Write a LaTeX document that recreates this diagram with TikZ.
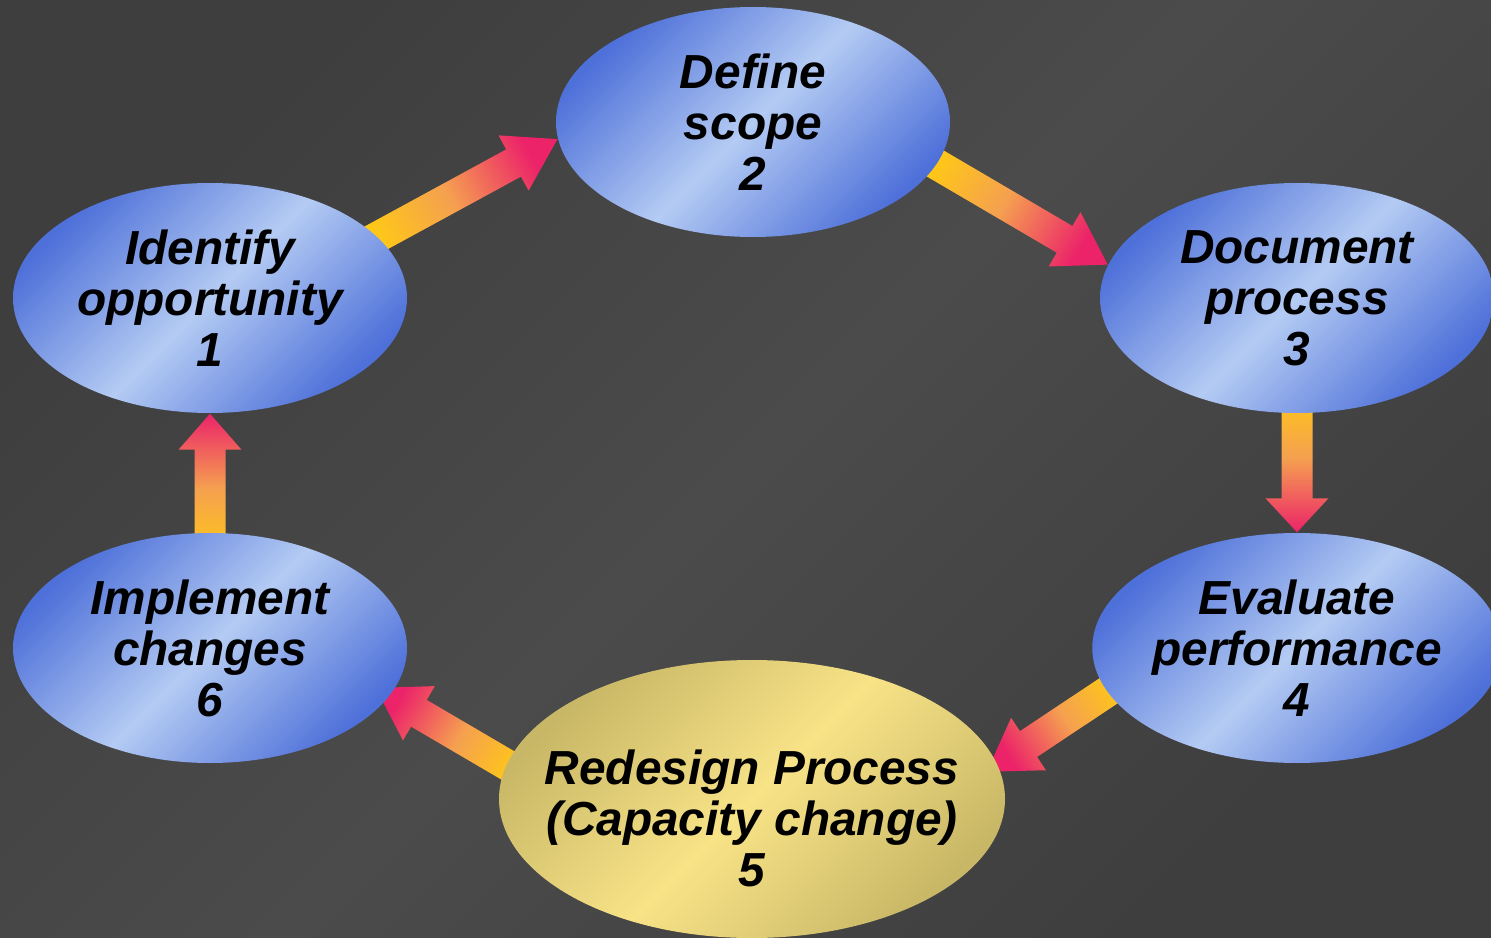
\documentclass[tikz,border=0pt]{standalone}
\usepackage{fontspec}
\setmainfont{Liberation Sans}
\usepackage{tikz}
\usetikzlibrary{shapes.geometric,calc}

\definecolor{stagedark}{HTML}{4E70D9}
\definecolor{stagelight}{HTML}{B4CBF3}
\definecolor{hotdark}{HTML}{C8B766}
\definecolor{hotlight}{HTML}{F8E387}
\definecolor{arrowyellow}{HTML}{FFCC11}
\definecolor{arroworange}{HTML}{F5A050}
\definecolor{arrowpink}{HTML}{EC2369}
\definecolor{slate}{HTML}{4B4B4B}
\definecolor{slatedark}{HTML}{3E3E3E}

\pgfdeclarelayer{backdrop}
\pgfdeclarelayer{links}
\pgfsetlayers{backdrop,links,main}

% fat shaded block arrow: [head length]{from}{to}
\newcommand\cyclearrow[3][5mm]{%
  \coordinate (tip) at (#3);
  \coordinate (tail) at ($(#2)!-3mm!(tip)$);
  \coordinate (hb) at ($(tip)!#1!(tail)$);
  \pgfmathanglebetweenpoints{\pgfpointanchor{tail}{center}}{\pgfpointanchor{tip}{center}}%
  \pgfmathsetmacro\arrowangle{\pgfmathresult-90}%
  \shade[top color=arrowpink, bottom color=arrowyellow, middle color=arroworange, shading angle=\arrowangle]
    ($(tail)!1.55mm!90:(tip)$) -- ($(hb)!1.55mm!90:(tip)$) -- ($(hb)!3.15mm!90:(tip)$) -- (tip)
    -- ($(hb)!3.15mm!-90:(tip)$) -- ($(hb)!1.55mm!-90:(tip)$) -- ($(tail)!1.55mm!-90:(tip)$) -- cycle;
}

\begin{document}
\begin{tikzpicture}[
    every node/.append style={font=\fontsize{13.6}{14.5}\selectfont\bfseries\itshape, align=center, text=black},
    stage/.style={ellipse, inner sep=0pt, minimum width=3.94cm, minimum height=2.3cm,
      top color=stagedark, bottom color=stagedark, middle color=stagelight, shading angle=45},
    hotstage/.style={stage, minimum width=5.06cm, minimum height=2.78cm,
      top color=hotdark, bottom color=hotdark, middle color=hotlight, shading angle=45}]
  \useasboundingbox (0,0) rectangle (14.91,9.37);
  \begin{pgfonlayer}{backdrop}
    \shade[top color=slatedark, bottom color=slatedark, middle color=slate, shading angle=45]
      (0,0) rectangle (14.91,9.37);
  \end{pgfonlayer}

  \node (ident) [stage] at (2.10,6.39) {Identify\\opportunity\\1};
  \node (scope) [stage] at (7.53,8.15) {Define\\scope\\2};
  \node (doc) [stage] at (12.97,6.39) {Document\\process\\3};
  \node (eval) [stage] at (12.97,2.89) {Evaluate\\performance\\4};
  \node (redesign) [hotstage] at (7.52,1.38) {};
  \node (redesigntext) at ([yshift=-1.9mm]redesign.center) {Redesign Process\\(Capacity change)\\5};
  \node (impl) [stage] at (2.10,2.89) {Implement\\changes\\6};

  \begin{pgfonlayer}{links}
    \cyclearrow{ident.20}{scope.185}
    \cyclearrow{scope.-13}{doc.170}
    \cyclearrow[3.4mm]{doc.south}{eval.north}
    \cyclearrow{eval.193}{$(eval.193)!1.1!(redesign.8)$}
    \cyclearrow{redesign.172}{$(redesign.172)!1.12!(impl.-15)$}
    \cyclearrow[3.6mm]{impl.north}{ident.south}
  \end{pgfonlayer}
\end{tikzpicture}
\end{document}
